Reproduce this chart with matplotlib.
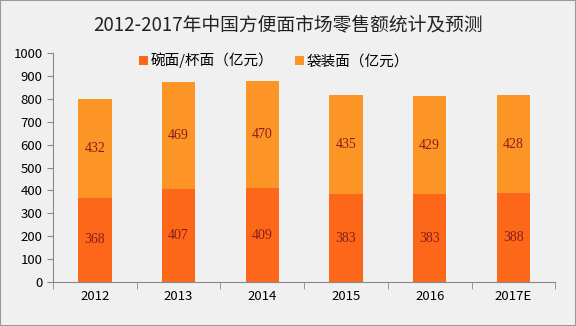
import matplotlib
matplotlib.use("Agg")
import matplotlib.pyplot as plt
import numpy as np

plt.rcParams['font.family'] = ['Noto Sans CJK SC', 'DejaVu Sans']

years = ["2012", "2013", "2014", "2015", "2016", "2017E"]
bowl_cup = [368, 407, 409, 383, 383, 388]
bagged = [432, 469, 470, 435, 429, 428]

c_bottom = "#fc6719"
c_top = "#fd9526"
bg = "#f0f0f0"
label_color = "#8b1c1c"

fig = plt.figure(figsize=(5.76, 3.26), dpi=100, facecolor=bg)
ax = fig.add_axes([0.092, 0.135, 0.872, 0.702])
ax.set_facecolor(bg)

x = np.arange(len(years))
w = 0.4
ax.bar(x, bowl_cup, w, color=c_bottom, label="碗面/杯面（亿元）")
ax.bar(x, bagged, w, bottom=bowl_cup, color=c_top, label="袋装面（亿元）")

for xi, v in zip(x, bowl_cup):
    ax.text(xi, v / 2, str(v), ha="center", va="center", fontsize=10,
            color=label_color, family="Liberation Serif")
for xi, v, b in zip(x, bagged, bowl_cup):
    ax.text(xi, b + v / 2, str(v), ha="center", va="center", fontsize=10,
            color=label_color, family="Liberation Serif")

ax.set_xlim(-0.5, len(years) - 0.5)
ax.set_ylim(0, 1000)
ax.set_yticks(range(0, 1001, 100))
ax.tick_params(axis="y", labelsize=9.5, length=4, color="#888888")
ax.set_xticks(x)
ax.set_xticklabels(years, fontsize=9.5)
ax.tick_params(axis="x", length=0, pad=6)
ax.set_xticks(np.arange(-0.5, len(years), 1), minor=True)
ax.tick_params(axis="x", which="minor", length=5, color="#888888")

for s in ["top", "right"]:
    ax.spines[s].set_visible(False)
for s in ["left", "bottom"]:
    ax.spines[s].set_color("#888888")

fig.suptitle("2012-2017年中国方便面市场零售额统计及预测", y=0.955, fontsize=13.5,
             fontweight="medium", color="#222222")
ax.legend(loc="upper center", bbox_to_anchor=(0.44, 1.06), ncol=2, frameon=False,
          fontsize=10.5, handlelength=0.6, handleheight=0.6, columnspacing=1.5,
          handletextpad=0.2)

border = plt.Rectangle((0, 0), 1, 1, transform=fig.transFigure, fill=False,
                       edgecolor="#999999", linewidth=1.5)
fig.patches.append(border)

fig.savefig("out.png", dpi=100, facecolor=bg)
